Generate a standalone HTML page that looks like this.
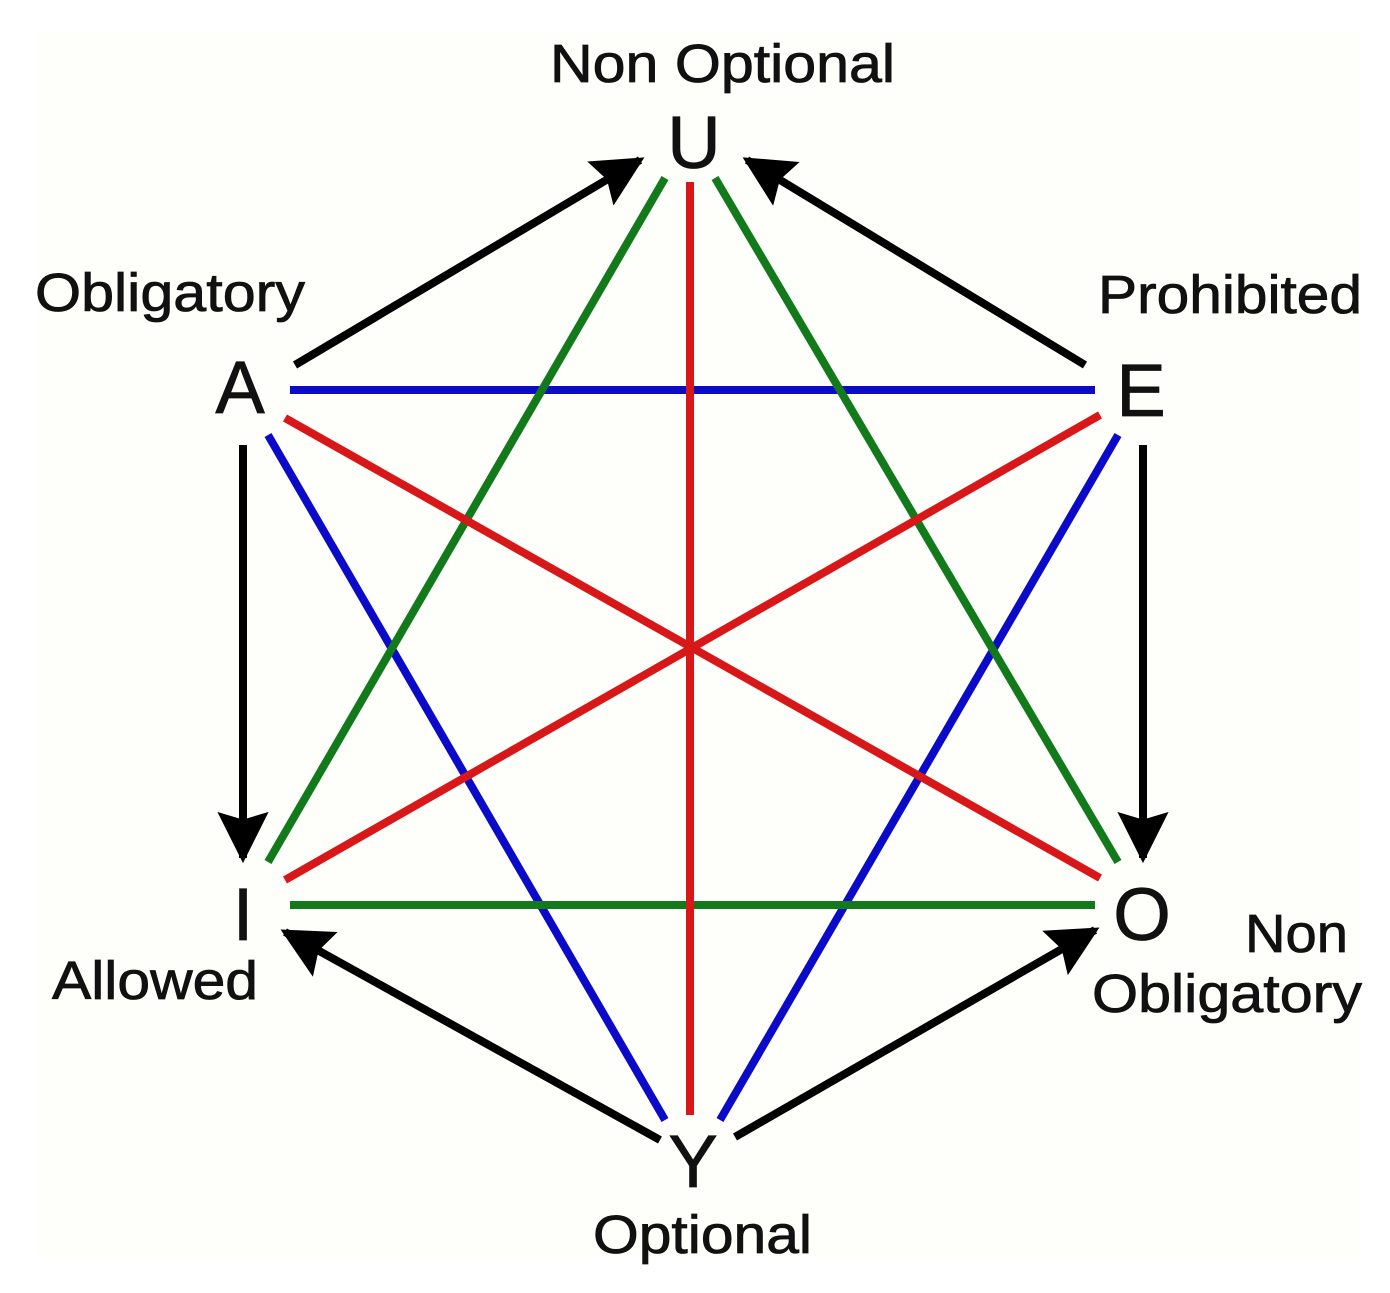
<!DOCTYPE html>
<html><head><meta charset="utf-8"><style>
html,body{margin:0;padding:0;background:#fff;}
svg{display:block;}
text{font-family:"Liberation Sans",sans-serif;fill:#111;stroke:#111;stroke-width:0.8px;}
</style></head><body>
<svg width="1390" height="1293" viewBox="0 0 1390 1293" xmlns="http://www.w3.org/2000/svg">
<defs>
<marker id="ah" viewBox="0 0 10 10" refX="9" refY="5" markerWidth="6.4" markerHeight="6.4" orient="auto" markerUnits="strokeWidth">
<path d="M0,0 L10,5 L0,10 L1.5,5 z" fill="#000"/>
</marker>
</defs>
<rect x="0" y="0" width="1390" height="1293" fill="#fff"/>
<rect x="38" y="32" width="1322" height="1225" fill="#fefefb"/>
<g stroke-width="8" stroke-linecap="butt" fill="none">
<line x1="290" y1="390" x2="1095" y2="390" stroke="#0a0ac8"/>
<line x1="268" y1="435" x2="665" y2="1120" stroke="#0a0ac8"/>
<line x1="1118" y1="435" x2="720" y2="1120" stroke="#0a0ac8"/>
<line x1="290" y1="905" x2="1095" y2="905" stroke="#127a1a"/>
<line x1="665" y1="178" x2="268" y2="862" stroke="#127a1a"/>
<line x1="715" y1="178" x2="1118" y2="862" stroke="#127a1a"/>
<line x1="690" y1="182" x2="690" y2="1115" stroke="#d81818"/>
<line x1="285" y1="418" x2="1100" y2="878" stroke="#d81818"/>
<line x1="1100" y1="415" x2="285" y2="880" stroke="#d81818"/>
<g stroke="#000" stroke-width="8">
<line x1="295" y1="365" x2="640" y2="160" marker-end="url(#ah)"/>
<line x1="1085" y1="365" x2="747" y2="160" marker-end="url(#ah)"/>
<line x1="243" y1="445" x2="243" y2="858" marker-end="url(#ah)"/>
<line x1="1143" y1="445" x2="1143" y2="858" marker-end="url(#ah)"/>
<line x1="660" y1="1140" x2="285" y2="932" marker-end="url(#ah)"/>
<line x1="735" y1="1137" x2="1095" y2="930" marker-end="url(#ah)"/>
</g>
</g>
<g font-size="74" text-anchor="middle">
<text x="694" y="168">U</text>
<text x="240" y="413">A</text>
<text x="1141" y="416">E</text>
<text x="243" y="940">I</text>
<text x="1142" y="940">O</text>
<text x="693" y="1187">Y</text>
</g>
<g font-size="54">
<text x="550" y="82" textLength="345" lengthAdjust="spacingAndGlyphs">Non Optional</text>
<text x="35" y="311" textLength="270" lengthAdjust="spacingAndGlyphs">Obligatory</text>
<text x="1098" y="313" textLength="264" lengthAdjust="spacingAndGlyphs">Prohibited</text>
<text x="52" y="999" textLength="206" lengthAdjust="spacingAndGlyphs">Allowed</text>
<text x="1245" y="952" textLength="103" lengthAdjust="spacingAndGlyphs">Non</text>
<text x="1092" y="1012" textLength="270" lengthAdjust="spacingAndGlyphs">Obligatory</text>
<text x="593" y="1253" textLength="219" lengthAdjust="spacingAndGlyphs">Optional</text>
</g>
</svg>
</body></html>
